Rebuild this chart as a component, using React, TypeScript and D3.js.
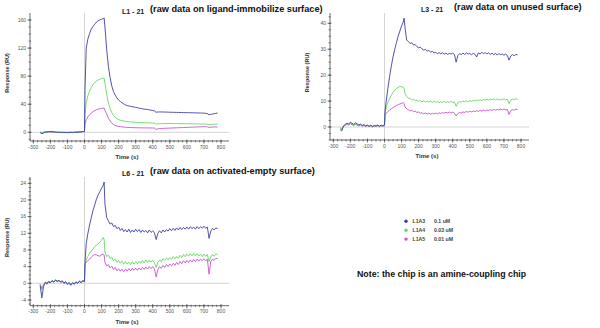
import React from 'react';
import * as d3 from 'd3';

// time samples (s)
const TIME = [
  -260, -250, -240, -230, -220, -210, -200, -190, -180, -170, -160, -150, -140, -130, -120, -110, -100, -90, -80, -70, -60, -50, -40, -30, -20, -10, 0,
  3,
  10, 20, 30, 40, 50, 60, 70, 80, 90, 100, 110,
  115,
  120, 130, 140, 150, 160, 170, 180, 190, 200, 210,
  220, 230, 240, 250, 260, 270, 280, 290, 300, 310,
  320, 330, 340, 350, 360, 370, 380, 390, 400, 410,
  420, 430, 440, 450, 460, 470, 480, 490, 500, 510,
  520, 530, 540, 550, 560, 570, 580, 590, 600, 610,
  620, 630, 640, 650, 660, 670, 680, 690, 700, 710,
  720, 730, 740, 750, 760, 770, 780,
];

const SERIES_NAMES = ['L1A3', 'L1A4', 'L1A5'];
const SERIES_CONC = ['0.1 uM', '0.03 uM', '0.01 uM'];
const SERIES_COLORS = ['#3e3ea8', '#62d862', '#cc50cc'];

// ---- L1 - 21 ----
const L1_A3 = [
  -0.5, -2, -1, 0, 0.5, 1, 1, 1, 0.5, 0.5, 0, 0, 0, 0, -0.5, 0, -0.5, -0.5, 0, -0.5, 0, 0, 0, 0.5, 0.5, 1, 1,
  60,
  120, 133, 141, 147, 151, 154, 157, 159, 160, 161, 162,
  163,
  150, 118, 94, 78, 66, 58, 53, 49, 46, 44,
  42, 40.5, 39, 38, 37.5, 37, 36.5, 36, 35.5, 35,
  34.5, 34, 33.5, 33, 32.8, 32.5, 32, 31.5, 31, 30.5,
  28.5, 29, 29, 29, 29, 28.8, 28.8, 28.7, 28.6, 28.5,
  28.5, 28.4, 28.3, 28.3, 28.2, 28.2, 28.1, 28, 28, 28,
  27.9, 27.8, 27.8, 27.7, 27.6, 27.5, 27.5, 27.4, 27.3, 27,
  26.5, 25, 25.5, 26, 26.5, 27, 27.5,
];
const L1_A4 = [
  0, -0.5, 0, 0.5, 0.5, 1, 1, 0.5, 0.5, 0, 0, 0, 0, -0.5, 0, 0, -0.5, 0, 0, 0, 0, 0, 0.5, 0.5, 0.5, 1, 1,
  25,
  42, 52, 59, 64, 68, 71, 73, 74.5, 75.5, 76.5, 77,
  77,
  70, 54, 42, 34, 28, 24, 21.5, 19.5, 18, 17.2,
  16.6, 16.1, 15.7, 15.4, 15.1, 14.9, 14.7, 14.5, 14.3, 14.1,
  14, 13.9, 13.8, 13.7, 13.6, 13.5, 13.4, 13.3, 13.2, 13,
  11.5, 12, 12.2, 12.3, 12.4, 12.4, 12.5, 12.5, 12.5, 12.5,
  12.5, 12.4, 12.4, 12.4, 12.3, 12.3, 12.3, 12.2, 12.2, 12.2,
  12.1, 12.1, 12, 12, 12, 11.9, 11.9, 11.8, 11.8, 11.7,
  11.5, 10.5, 11, 11.3, 11.5, 11.6, 11.7,
];
const L1_A5 = [
  0, -0.5, 0, 0.5, 0.5, 0.5, 0.5, 0.5, 0, 0, 0, 0, -0.5, 0, 0, -0.5, 0, 0, 0, 0, 0, 0.5, 0.5, 0.5, 0.5, 1, 1,
  12,
  18, 22, 25, 27.5, 29.5, 31, 32, 33, 33.5, 34, 34.5,
  34.5,
  31, 26, 20, 16, 13, 11, 9.8, 9, 8.4, 8,
  7.7, 7.4, 7.2, 7, 6.9, 6.8, 6.7, 6.6, 6.5, 6.5,
  6.4, 6.4, 6.3, 6.3, 6.3, 6.2, 6.2, 6.2, 6.1, 6,
  4, 5, 5.3, 5.5, 5.6, 5.7, 5.8, 5.9, 6, 6.1,
  6.2, 6.3, 6.4, 6.5, 6.6, 6.7, 6.8, 6.9, 7, 7.1,
  7.2, 7.3, 7.4, 7.5, 7.6, 7.7, 7.8, 7.9, 8, 8,
  7.8, 7, 7.3, 7.5, 7.6, 7.6, 7.5,
];

// ---- L3 - 21 ----
const L3_A3 = [
  -1, -1.5, 0.5, 1, 1.5, 1.2, 1.8, 1.4, 1, 1.6, 1.2, 0.8, 1.1, 0.6, 0.9, 0.4, 0.8, 0.3, 0.7, 0.2, 0.6, 0.4, 0.8, 0.3, 0.7, 0.5, 0.8,
  6,
  10, 15, 19.5, 23.5, 27, 30, 32.5, 35, 37, 39, 40.5,
  42,
  38.5, 33.5, 33, 32.2, 32.5, 31.6, 31.8, 31, 30.6, 30.8,
  30.1, 29.7, 29.9, 29.3, 29.5, 28.9, 29.2, 28.6, 28.8, 28.3,
  28.7, 28.2, 28.6, 28.1, 28.5, 28, 28.4, 28.1, 28.5, 28,
  25, 27.6, 28.3, 27.9, 28.5, 28, 28.6, 28.1, 28.4, 27.8,
  28.5, 28, 27, 28.6, 28.2, 28.8, 28.3, 28.7, 28.2, 28.6,
  28, 28.5, 27.9, 28.4, 27.8, 28.3, 27.9, 28.2, 27.7, 28.1,
  27.6, 25.8, 27.4, 27.9, 27.5, 28, 27.8,
];
const L3_A4 = [
  -0.5, -1, 0.2, 0.8, 1.2, 1, 1.5, 1.1, 0.8, 1.3, 0.9, 0.6, 0.9, 0.4, 0.7, 0.3, 0.6, 0.2, 0.5, 0.1, 0.5, 0.3, 0.6, 0.2, 0.6, 0.4, 0.6,
  5,
  7.5, 9.5, 11, 12.3, 13.3, 14.2, 14.8, 15.3, 15.6, 15.5, 15.3,
  15,
  13, 11.8, 11.2, 11, 10.4, 10.7, 10.1, 10.4, 9.9, 10.2,
  9.7, 10.1, 9.6, 10, 9.6, 10, 9.5, 9.9, 9.5, 9.9,
  9.4, 9.8, 9.5, 9.9, 9.4, 9.8, 9.5, 9.9, 9.4, 9.7,
  8, 9.4, 9.8, 9.6, 10, 9.7, 10.1, 9.8, 10.2, 9.9,
  10.3, 10, 10.4, 10.1, 10.5, 10.2, 10.6, 10.3, 10.7, 10.4,
  10.8, 10.5, 10.9, 10.5, 10.8, 10.4, 10.8, 10.5, 10.9, 10.5,
  10.7, 9, 10.4, 10.8, 10.5, 10.9, 10.7,
];
const L3_A5 = [
  -0.3, -0.8, 0.3, 0.6, 1, 0.8, 1.2, 0.9, 0.6, 1, 0.7, 0.4, 0.8, 0.3, 0.6, 0.2, 0.5, 0.1, 0.5, 0, 0.4, 0.2, 0.5, 0.1, 0.5, 0.3, 0.5,
  4.5,
  5.2, 6, 6.5, 7, 7.5, 7.9, 8.3, 8.6, 8.9, 9.1, 9.4,
  9,
  7.8, 7, 6.6, 6.2, 6.4, 5.9, 6.1, 5.6, 5.8, 5.3,
  5.5, 5.1, 5.4, 5, 5.3, 4.9, 5.3, 5, 5.4, 5.1,
  5.5, 5.2, 5.6, 5.3, 5.7, 5.4, 5.8, 5.4, 5.7, 5.3,
  4.3, 5.2, 5.6, 5.4, 5.8, 5.6, 6, 5.7, 6.1, 5.8,
  6.2, 5.9, 6.3, 6, 6.4, 6.1, 6.5, 6.2, 6.6, 6.3,
  6.7, 6.4, 6.8, 6.5, 6.8, 6.5, 6.9, 6.6, 6.9, 6.6,
  6.8, 4.8, 6.3, 6.7, 6.5, 6.9, 6.7,
];

// ---- L6 - 21 ----
const L6_A3 = [
  -0.5, -3.5, -0.8, 0.2, -0.2, 0.4, 0.1, 0.6, 0.3, 0.8, 0.5, 0.7, 0.4, 0.6, 0.1, 0.4, -0.2, 0.2, -0.4, 0.1, -0.2, 0.3, 0, 0.5, 0.2, 0.6, 0.4,
  5,
  9.5, 12, 14, 15.8, 17.5, 18.8, 20.2, 21.2, 22, 22.8, 23.5,
  24.3,
  19, 15.8, 15, 14.2, 14.5, 13.6, 13.9, 13.1, 13.5, 12.7,
  13.2, 12.4, 12.9, 12.3, 13, 12.2, 12.8, 12.3, 13, 12.4,
  12.9, 12.2, 12.8, 12.3, 12.7, 12.1, 12.8, 12.2, 12.6, 12.1,
  10.5, 12, 12.6, 12.1, 12.8, 12.3, 12.9, 12.5, 13.1, 12.6,
  13.2, 12.7, 13.3, 12.8, 13.4, 12.9, 13.4, 13, 13.5, 13,
  13.6, 13.1, 13.5, 13, 13.6, 13.1, 13.6, 13.2, 13.7, 13.2,
  13.5, 10.8, 12.5, 13.2, 12.8, 13.3, 13.1,
];
const L6_A4 = [
  -0.3, -1.5, -0.5, 0.3, 0, 0.5, 0.2, 0.7, 0.4, 0.8, 0.5, 0.6, 0.3, 0.5, 0, 0.3, -0.3, 0.1, -0.4, 0.2, -0.1, 0.4, 0.1, 0.6, 0.2, 0.7, 0.5,
  4.5,
  5.5, 6.5, 7.2, 7.8, 8.2, 8.8, 9.1, 9.5, 9.8, 10.3, 11,
  10.5,
  7.5, 6.4, 6.8, 5.9, 6.3, 5.4, 5.8, 5, 5.5, 4.8,
  5.3, 4.6, 5.2, 4.6, 5.1, 4.5, 5.2, 4.6, 5.2, 4.7,
  5.3, 4.8, 5.5, 4.9, 5.6, 5, 5.6, 5.1, 5.5, 5,
  3.8, 5, 5.6, 5.2, 5.9, 5.5, 6.1, 5.6, 6.2, 5.8,
  6.4, 5.9, 6.5, 6, 6.7, 6.2, 6.9, 6.4, 7, 6.5,
  7.1, 6.6, 7.2, 6.6, 7.1, 6.5, 7, 6.4, 7, 6.5,
  6.9, 5.2, 6.3, 6.9, 6.5, 7.1, 6.8,
];
const L6_A5 = [
  -0.2, -1.2, -0.3, 0.2, 0.1, 0.4, 0.2, 0.6, 0.3, 0.7, 0.4, 0.6, 0.2, 0.4, -0.1, 0.2, -0.3, 0, -0.5, 0.1, -0.2, 0.3, 0, 0.5, 0.1, 0.6, 0.4,
  4.5,
  5, 5.4, 5.8, 6.3, 6.7, 6.9, 6.8, 6.6, 6.5, 6.9, 7,
  6.8,
  5, 4.2, 4.5, 3.7, 4.1, 3.3, 3.8, 3, 3.5, 2.9,
  3.4, 2.8, 3.4, 2.9, 3.5, 3, 3.6, 3.1, 3.6, 3.1,
  3.7, 3.2, 3.8, 3.3, 3.9, 3.4, 4, 3.5, 4, 3.4,
  1.5, 3.3, 4, 3.6, 4.3, 3.8, 4.5, 4, 4.6, 4.2,
  4.8, 4.3, 5, 4.5, 5.2, 4.7, 5.4, 4.9, 5.5, 5,
  5.6, 5.1, 5.7, 5.2, 5.8, 5.3, 5.8, 5.4, 5.9, 5.4,
  5.8, 2.2, 5.2, 5.8, 5.5, 6, 5.9,
];

const X_TICKS = [-300, -200, -100, 0, 100, 200, 300, 400, 500, 600, 700, 800];
const L1_Y_TICKS = [0, 40, 80, 120, 160];
const L3_Y_TICKS = [0, 10, 20, 30, 40];
const L6_Y_TICKS = [-4, 0, 4, 8, 12, 16, 20, 24];

const FONT = "'Liberation Sans', Arial, sans-serif";

type PanelProps = {
  ox: number; // x offset
  yZero: number; yTopVal: number; yTopPx: number;
  axisTop: number; axisBottom: number;
  yDomain: [number, number];
  yTicks: number[]; yMinor: number;
  series: number[][];
  code: string; title: string;
  codeX: number; titleX: number; titleY: number;
};

function Panel(p: PanelProps) {
  const axisX = p.ox + 30;
  const axisRight = p.ox + 229;
  const x = d3.scaleLinear().domain([-300, 800]).range([p.ox + 33.3, p.ox + 221]);
  const y = d3.scaleLinear().domain([0, p.yTopVal]).range([p.yZero, p.yTopPx]);
  const line = d3.line<number>().x((_, i) => x(TIME[i])).y((v) => y(v));
  const minorY = d3.range(Math.ceil(p.yDomain[0] / p.yMinor) * p.yMinor, p.yDomain[1], p.yMinor)
    .filter((v) => y(v) <= p.axisBottom && y(v) >= p.axisTop);
  const minorX = d3.range(-300, 825, 25);
  const labelCy = (p.axisTop + p.axisBottom) / 2 - 4;
  return (
    <g>
      {/* reference lines */}
      <line x1={x(0)} x2={x(0)} y1={p.axisTop} y2={p.axisBottom} stroke="#c8c8c8" strokeWidth={0.8} />
      <line x1={axisX} x2={axisRight} y1={y(0)} y2={y(0)} stroke="#c8c8c8" strokeWidth={0.8} />
      {/* axes */}
      <line x1={axisX} x2={axisX} y1={p.axisTop} y2={p.axisBottom} stroke="#444" strokeWidth={0.8} />
      <line x1={axisX} x2={axisRight} y1={p.axisBottom} y2={p.axisBottom} stroke="#444" strokeWidth={0.8} />
      {minorY.map((v) => (
        <line key={'my' + v} x1={axisX - 1.5} x2={axisX + 1} y1={y(v)} y2={y(v)} stroke="#444" strokeWidth={0.6} />
      ))}
      {p.yTicks.map((v) => (
        <g key={'y' + v}>
          <line x1={axisX - 2.5} x2={axisX + 1.5} y1={y(v)} y2={y(v)} stroke="#444" strokeWidth={0.7} />
          <text x={axisX - 4} y={y(v) + 1.8} fontSize={5} textAnchor="end" fill="#555" fontFamily={FONT}>{v}</text>
        </g>
      ))}
      {minorX.map((v) => (
        <line key={'mx' + v} x1={x(v)} x2={x(v)} y1={p.axisBottom - 1} y2={p.axisBottom + 1.5} stroke="#444" strokeWidth={0.6} />
      ))}
      {X_TICKS.map((v) => (
        <g key={'x' + v}>
          <line x1={x(v)} x2={x(v)} y1={p.axisBottom - 1.5} y2={p.axisBottom + 2.5} stroke="#444" strokeWidth={0.7} />
          <text x={x(v)} y={p.axisBottom + 7.5} fontSize={5} textAnchor="middle" fill="#555" fontFamily={FONT}>{v}</text>
        </g>
      ))}
      <text x={p.ox + 127} y={p.axisBottom + 18} fontSize={6} fontWeight="bold" textAnchor="middle" fill="#333" fontFamily={FONT}>Time (s)</text>
      <text transform={`translate(${p.ox + 9},${labelCy}) rotate(-90)`} fontSize={5.5} fontWeight="bold" textAnchor="middle" fill="#333" fontFamily={FONT}>Response (RU)</text>
      {/* series */}
      {p.series.map((s, i) => (
        <path key={'s' + i} d={line(s) || ''} fill="none" stroke={SERIES_COLORS[i]} strokeWidth={0.9} strokeLinejoin="round" />
      )).reverse()}
      {/* titles */}
      <text x={p.codeX} y={p.titleY + 2} fontSize={7} fontWeight="bold" fill="#222" fontFamily={FONT}>{p.code}</text>
      <text x={p.titleX} y={p.titleY} fontSize={9.2} fontWeight="bold" fill="#111" fontFamily={FONT}>{p.title}</text>
    </g>
  );
}

export default function App() {
  return (
    <svg width={600} height={328} style={{ position: 'fixed', left: 0, top: 0, background: '#fff' }}>
      <rect width={600} height={328} fill="#fff" />
      <Panel ox={0} yZero={132.3} yTopVal={160} yTopPx={20} axisTop={13} axisBottom={141}
        yDomain={[-12, 170]} yTicks={L1_Y_TICKS} yMinor={10}
        series={[L1_A3, L1_A4, L1_A5]} code="L1 - 21" title="(raw data on ligand-immobilize surface)"
        codeX={122} titleX={150} titleY={12} />
      <Panel ox={300} yZero={127} yTopVal={40} yTopPx={23.3} axisTop={13} axisBottom={140}
        yDomain={[-5, 44]} yTicks={L3_Y_TICKS} yMinor={2.5}
        series={[L3_A3, L3_A4, L3_A5]} code="L3 - 21" title="(raw data on unused surface)"
        codeX={421} titleX={454} titleY={10} />
      <Panel ox={0} yZero={283.3} yTopVal={24} yTopPx={183.3} axisTop={177} axisBottom={305.7}
        yDomain={[-5.4, 25.5]} yTicks={L6_Y_TICKS} yMinor={1}
        series={[L6_A3, L6_A4, L6_A5]} code="L6 - 21" title="(raw data on activated-empty surface)"
        codeX={122} titleX={150} titleY={174} />
      {/* legend */}
      {SERIES_NAMES.map((n, i) => (
        <g key={n}>
          <circle cx={406} cy={221.3 + i * 8.9} r={1.7} fill={SERIES_COLORS[i]} />
          <text x={412.5} y={223.2 + i * 8.9} fontSize={5.2} fontWeight="bold" fill="#444" fontFamily={FONT}>{n}</text>
          <text x={434} y={223.2 + i * 8.9} fontSize={5.2} fontWeight="bold" fill="#444" fontFamily={FONT}>{SERIES_CONC[i]}</text>
        </g>
      ))}
      <text x={357} y={277} fontSize={8.8} fontWeight="bold" fill="#111" fontFamily={FONT}>Note: the chip is an amine-coupling chip</text>
    </svg>
  );
}
